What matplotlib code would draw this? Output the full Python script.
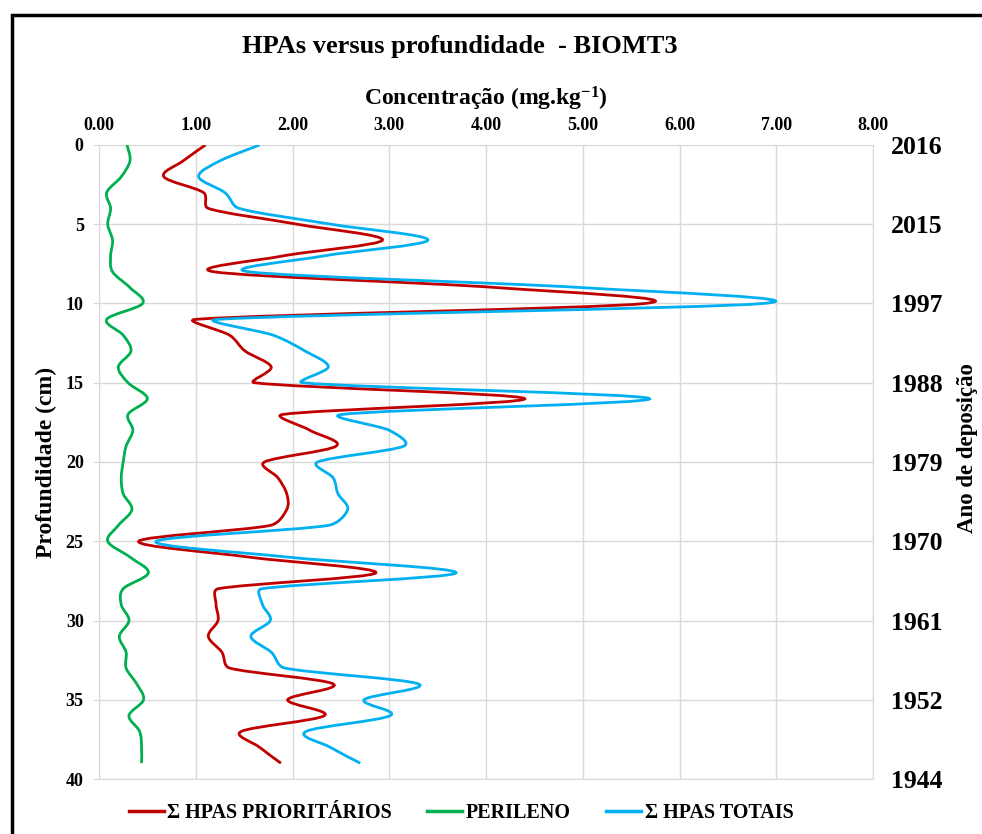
import matplotlib
matplotlib.use("Agg")
import matplotlib.pyplot as plt
import numpy as np
from matplotlib.path import Path
from matplotlib.patches import PathPatch, Rectangle
from matplotlib.lines import Line2D

plt.rcParams['font.family'] = ['Liberation Serif', 'DejaVu Serif']
plt.rcParams['font.weight'] = 'bold'
plt.rcParams['axes.labelweight'] = 'bold'
plt.rcParams['mathtext.fontset'] = 'custom'
plt.rcParams['mathtext.rm'] = 'Liberation Serif:bold'
plt.rcParams['mathtext.default'] = 'rm'

# depth (cm), one sample per cm
depth = list(range(0, 40))

hpas_prior = [1.10, 0.87, 0.67, 1.08, 1.13, 2.05, 2.93, 1.90, 1.19, 4.12,
              5.64, 1.00, 1.35, 1.51, 1.78, 1.61, 4.40, 1.90, 2.18, 2.45,
              1.71, 1.85, 1.94, 1.94, 1.77, 0.41, 1.55, 2.86, 1.23, 1.21,
              1.23, 1.13, 1.27, 1.35, 2.42, 1.95, 2.33, 1.47, 1.66, 1.88]

perileno = [0.29, 0.32, 0.23, 0.08, 0.12, 0.09, 0.14, 0.12, 0.14, 0.32,
            0.45, 0.08, 0.25, 0.33, 0.20, 0.30, 0.50, 0.30, 0.35, 0.28,
            0.25, 0.23, 0.25, 0.34, 0.20, 0.09, 0.32, 0.51, 0.25, 0.23,
            0.31, 0.21, 0.28, 0.28, 0.39, 0.46, 0.31, 0.42, 0.44, 0.44]

hpas_totais = [1.66, 1.25, 1.03, 1.30, 1.45, 2.40, 3.40, 2.32, 1.55, 5.00,
               6.86, 1.23, 1.80, 2.13, 2.37, 2.11, 5.69, 2.51, 3.00, 3.15,
               2.26, 2.42, 2.47, 2.57, 2.37, 0.59, 1.95, 3.69, 1.68, 1.69,
               1.77, 1.57, 1.78, 1.92, 3.30, 2.74, 3.01, 2.14, 2.39, 2.70]

year_ticks = [0, 5, 10, 15, 20, 25, 30, 35, 40]
year_labels = ['2016', '2015', '1997', '1988', '1979', '1970', '1961', '1952', '1944']

series = [
    (hpas_prior, '#C00000', 'Σ HPAS PRIORITÁRIOS'),
    (perileno, '#00B050', 'PERILENO'),
    (hpas_totais, '#00B0F0', 'Σ HPAS TOTAIS'),
]


def smooth_path(x, y, sx, sy):
    # smoothed line like excel: catmull-rom bezier through every point,
    # handles clamped on short segments (worked in screen units)
    pts = np.column_stack([np.asarray(x, float) * sx, np.asarray(y, float) * sy])
    n = len(pts)
    tang = [(pts[min(i + 1, n - 1)] - pts[max(i - 1, 0)]) / 6.0 for i in range(n)]
    verts = [pts[0]]
    codes = [Path.MOVETO]
    for i in range(n - 1):
        p1, p2 = pts[i], pts[i + 1]
        lim = 0.4 * np.hypot(*(p2 - p1))
        h1, h2 = tang[i], tang[i + 1]
        l1, l2 = np.hypot(*h1), np.hypot(*h2)
        if l1 > lim:
            h1 = h1 * lim / l1
        if l2 > lim:
            h2 = h2 * lim / l2
        verts += [p1 + h1, p2 - h2, p2]
        codes += [Path.CURVE4] * 3
    verts = np.array(verts) / [sx, sy]
    return Path(verts, codes)


def main():
    fig = plt.figure(figsize=(9.82, 8.34), dpi=100)
    ax = fig.add_axes([99 / 982, 1 - 779 / 834, 774 / 982, 634 / 834])

    sx, sy = 774 / 8.0, 634 / 40.0
    for vals, color, label in series:
        ax.add_patch(PathPatch(smooth_path(vals, depth, sx, sy), fill=False,
                               edgecolor=color, lw=2.0, zorder=3))

    ax.set_xlim(0, 8)
    ax.set_ylim(40, 0)
    ax.set_xticks(np.arange(0, 9, 1))
    ax.set_xticklabels(['%.2f' % v for v in np.arange(0, 9, 1)])
    ax.set_yticks(year_ticks)
    ax.xaxis.tick_top()
    ax.xaxis.set_label_position('top')
    ax.grid(True, color='#D9D9D9', lw=1)
    ax.set_axisbelow(True)
    for s in ax.spines.values():
        s.set_color('#D9D9D9')
    ax.tick_params(axis='x', length=0, pad=8, labelsize=13)
    ax.tick_params(axis='y', length=4, color='#D9D9D9', pad=7, labelsize=13)
    ax.set_xlabel('Concentração (mg.kg$^{-1}$)', fontsize=17, labelpad=8)
    ax.set_ylabel('Profundidade (cm)', fontsize=17, labelpad=6)

    ax2 = ax.twinx()
    ax2.set_ylim(40, 0)
    ax2.set_yticks(year_ticks)
    ax2.set_yticklabels(year_labels)
    ax2.tick_params(axis='y', length=0, pad=13, labelsize=18.5)
    for s in ax2.spines.values():
        s.set_visible(False)

    fig.text(968 / 982, 1 - 448 / 834, 'Ano de deposição', rotation=90,
             ha='center', va='center', fontsize=16.5)
    fig.text(460 / 982, 1 - 46 / 834, 'HPAs versus profundidade  - BIOMT3',
             ha='center', va='center', fontsize=19)

    handles = [Line2D([], [], color=c, lw=2.5) for _, c, _ in series]
    labels = [lab for _, _, lab in series]
    fig.legend(handles, labels, loc='center', bbox_to_anchor=(461 / 982, 1 - 813 / 834),
               ncol=3, frameon=False, fontsize=14.5, handlelength=1.75,
               handletextpad=0.17, columnspacing=1.75)

    fig.add_artist(Rectangle((12 / 982, -0.1), 1.2, 1.1 - 15 / 834,
                             transform=fig.transFigure, fill=False,
                             edgecolor='black', lw=2.5))

    fig.savefig('out.png', dpi=100, facecolor='white')


if __name__ == '__main__':
    main()
